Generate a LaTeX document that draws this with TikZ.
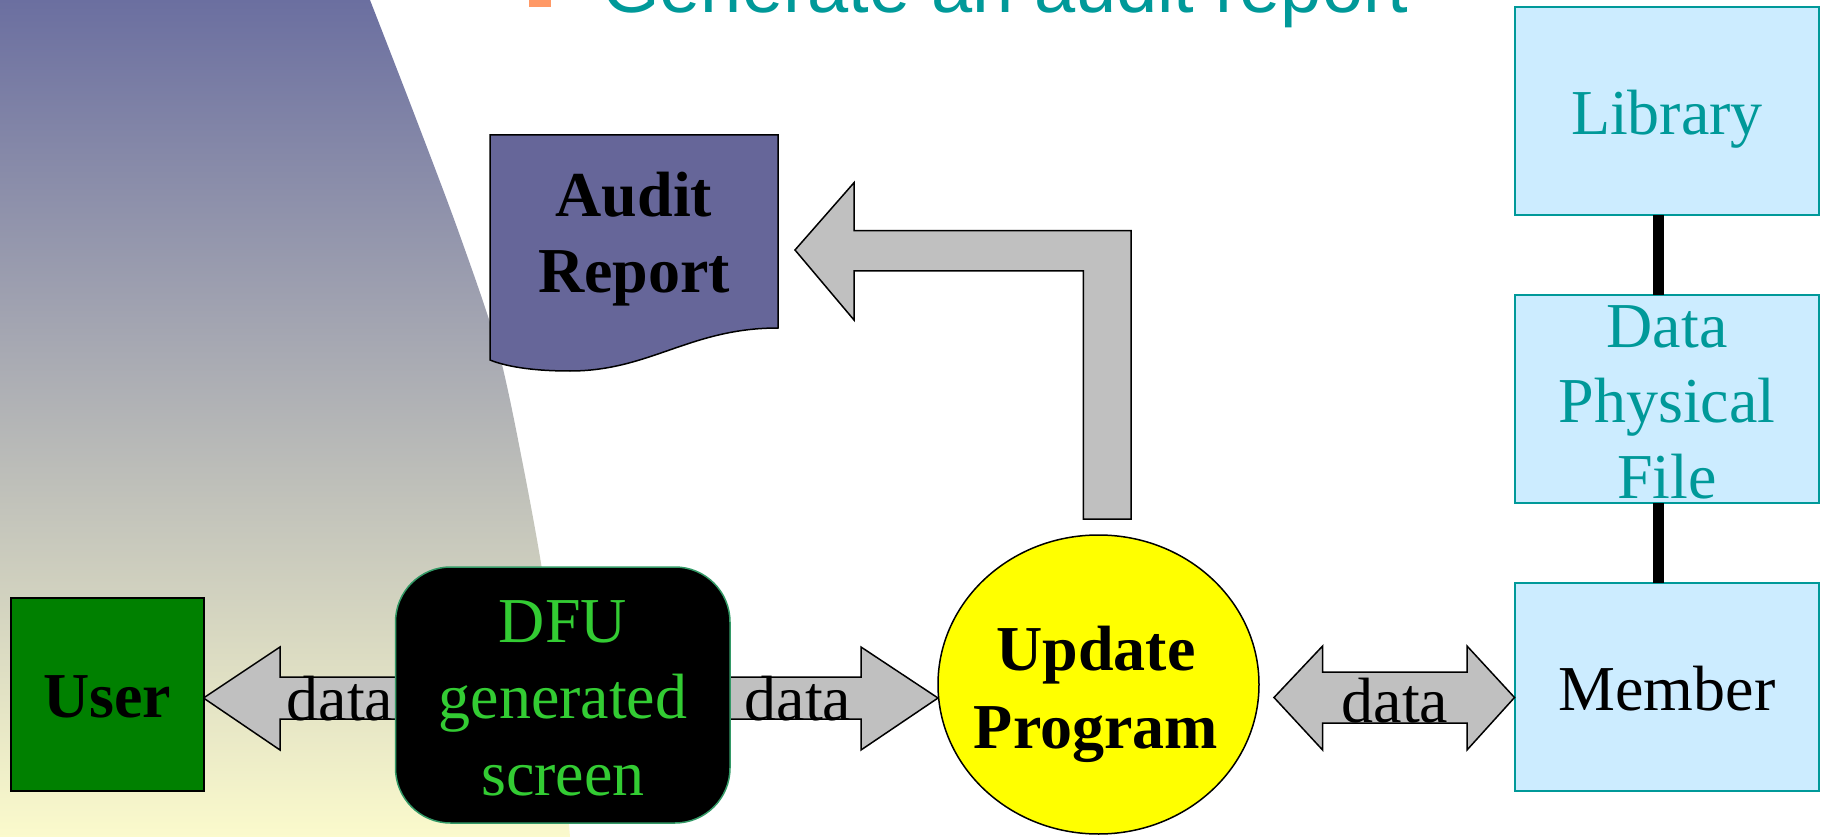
\documentclass[tikz,border=0pt]{standalone}
\usepackage{fontspec}
\setmainfont{Liberation Serif}
\newfontfamily\titlefont{Liberation Sans}
\usetikzlibrary{shapes.geometric,calc}
\definecolor{tealc}{HTML}{009999}
\definecolor{bgtop}{HTML}{6B6FA0}
\definecolor{bgmid}{HTML}{C4C6B6}
\definecolor{bgbot}{HTML}{FBFACC}
\definecolor{usergreen}{HTML}{008000}
\definecolor{dfuborder}{HTML}{339966}
\definecolor{dfutext}{HTML}{33CC33}
\definecolor{auditfill}{HTML}{666699}
\definecolor{filefill}{HTML}{CCECFF}
\definecolor{arrowgray}{HTML}{C0C0C0}
\definecolor{bulletc}{HTML}{FF9966}
\definecolor{updfill}{HTML}{FFFF00}
\pgfdeclarelayer{back}
\pgfdeclarelayer{mid}
\pgfsetlayers{back,mid,main}
\begin{document}
\begin{tikzpicture}[x=1pt,y=-1pt,
  big/.style={font=\fontsize{64}{76.5}\selectfont},
  lbl/.style={big, anchor=base, align=center, inner sep=0pt, outer sep=0pt},
  filebox/.style={draw=tealc, fill=filefill, line width=2pt, minimum width=304.5pt, minimum height=208pt, inner sep=0pt, outer sep=0pt},
  blk/.style={fill=arrowgray, draw=black, line width=1.5pt, line join=miter},
  link/.style={line width=11pt, draw=black}]
\useasboundingbox (0,0) rectangle (1824,837);
% background
\begin{pgfonlayer}{back}
\shade[top color=bgtop, middle color=bgmid, bottom color=bgbot]
  (0,0) -- plot[smooth] coordinates {(370,0) (415,116) (459,233) (498,349) (523,465) (544,582) (558,698) (570,837)} -- (0,837) -- cycle;
\end{pgfonlayer}
% title
\node[fill=bulletc, minimum size=22pt, inner sep=0pt] (bullet) at (540,-4) {};
\node[anchor=base west, inner sep=0pt, text=tealc, font=\titlefont\fontsize{74}{80}\selectfont] (title) at (602,12.5) {Generate an audit report};
% nodes
\node[draw=black, fill=usergreen, line width=2pt, minimum width=193pt, minimum height=193pt, inner sep=0pt, outer sep=0pt] (user) at (107,694.5) {};
\node[draw=dfuborder, fill=black, line width=1.5pt, rounded corners=55pt, minimum width=334.5pt, minimum height=256pt, inner sep=0pt, outer sep=0pt] (dfu) at (562.75,695) {};
\node[ellipse, draw=black, fill=updfill, line width=1.5pt, minimum width=321pt, minimum height=299pt, inner sep=0pt, outer sep=0pt] (upd) at (1098.5,684.5) {};
\node[filebox] (lib) at (1666.75,111) {};
\node[filebox] (dpf) at (1666.75,399) {};
\node[filebox] (mem) at (1666.75,687) {};
% audit report document
\draw[fill=auditfill, draw=black, line width=1.5pt] (490,135) -- (778,135) -- (778,328)
  .. controls (690,328) and (650,371) .. (570,371)
  .. controls (530,371) and (505,366) .. (490,360) -- cycle;
\coordinate (audit) at (778,250);
% connectors
\draw[link] ([xshift=-8pt]lib.south) -- ([xshift=-8pt]dpf.north);
\draw[link] ([xshift=-8pt]dpf.south) -- ([xshift=-8pt]mem.north);
\begin{pgfonlayer}{mid}
\draw[blk] (dfu.west |- 0,677) -- (280,677) -- (280,647) -- (user.east |- 0,698) -- (280,750) -- (280,719) -- (dfu.west |- 0,719);
\draw[blk] (dfu.east |- 0,677) -- (861,677) -- (861,647) -- (upd.west |- 0,698) -- (861,750) -- (861,719) -- (dfu.east |- 0,719);
\end{pgfonlayer}
\draw[blk] ($(upd.east |- 0,697.5)+(15,0)$) -- (1322.6,646) -- (1322.6,672) -- (1467,672) -- (1467,646) -- (mem.west |- 0,697.5) -- (1467,750) -- (1467,723) -- (1322.6,723) -- (1322.6,750) -- cycle;
\draw[blk] ($(audit)+(17,0)$) -- (854,182.7) -- (854,230.7) -- (1131,230.7) -- ($(upd.north -| 1131,0)+(0,-16)$) -- ($(upd.north -| 1083.3,0)+(0,-16)$) -- (1083.3,271) -- (854,271) -- (854,320) -- cycle;
% labels (base anchor = baseline of last line)
\node[lbl, font=\fontsize{64}{76.5}\selectfont\bfseries] (tuser) at (107,717) {User};
\node[lbl, text=dfutext] (tdfu) at (563,795) {DFU\\generated\\screen};
\node[lbl, font=\fontsize{64}{78}\selectfont\bfseries] (tupd) at (1096,748) {Update\\Program};
\node[lbl, text=tealc] (tlib) at (1667,135) {Library};
\node[lbl, text=tealc, font=\fontsize{64}{75.5}\selectfont] (tdpf) at (1667,498) {Data\\Physical\\File};
\node[lbl] (tmem) at (1667,710) {Member};
\node[lbl, font=\fontsize{64}{76.5}\selectfont\bfseries] (taudit) at (634,293) {Audit\\Report};
\node[lbl] (d1) at (340,720) {data};
\node[lbl] (d2) at (798,720) {data};
\node[lbl] (d3) at (1395,722) {data};
\end{tikzpicture}
\end{document}
